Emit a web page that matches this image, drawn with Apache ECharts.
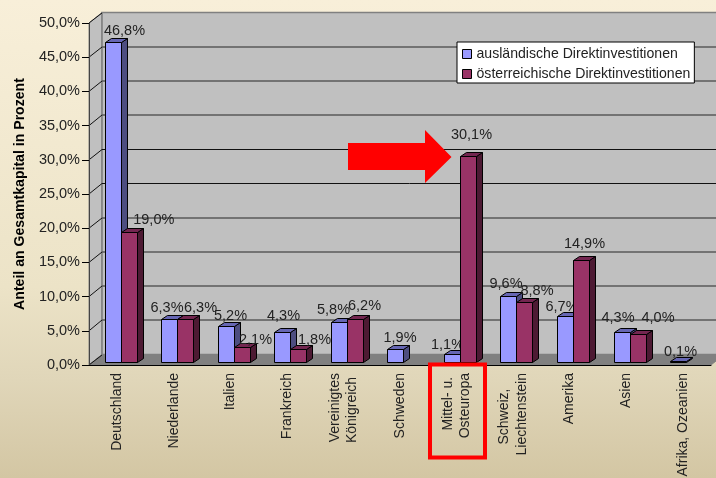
<!DOCTYPE html>
<html><head><meta charset="utf-8">
<style>html,body{margin:0;padding:0;background:#e8dcbc}#c{width:716px;height:478px}</style>
<script src="https://cdn.jsdelivr.net/npm/echarts@6/dist/echarts.min.js"></script>
</head><body><div id="c"></div>
<script>
const categories = ['Deutschland','Niederlande','Italien','Frankreich','Vereinigtes\nKönigreich','Schweden','Mittel- u.\nOsteuropa','Schweiz,\nLiechtenstein','Amerika','Asien','Afrika, Ozeanien'];
const auslaendisch = [46.8,6.3,5.2,4.3,5.8,1.9,1.1,9.6,6.7,4.3,0.1];
const oesterreichisch = [19.0,6.3,2.1,1.8,6.2,null,30.1,8.8,14.9,4.0,null];
const seriesNames = ['ausländische Direktinvestitionen','österreichische Direktinvestitionen'];
const valueTicks = [0,5,10,15,20,25,30,35,40,45,50];
const axisTitle = 'Anteil an Gesamtkapital in Prozent';
// hand-placed data-label nudges [dx,dy] relative to each bar's top centre
const nudgeA = [[11,-12],[-2.5,-12],[4,-11],[1,-17],[-6,-13],[4.5,-12],[-5,-10],[-2.5,-13],[-3.5,-10],[-4.5,-15],[2,-10]];
const nudgeB = [[24.3,-13],[15,-12],[13,-8],[16,-10],[9,-14],[0,0],[3,-22],[12.5,-11.5],[3,-17],[19.5,-17],[0,0]];
// trailing spaces so the shorter rotated line sits centred on the longer one
const labelPad = [0,0,0,0,[0,1],0,[1,0],[4,0],0,0,0];
// gridlines that look crisp black in the reference; the others are soft grey
const crispTicks = [25,30];

const FONT = '"Liberation Sans", Arial, sans-serif';
const TXT = '#222';
const pct = v => v.toFixed(1).replace('.', ',') + '%';
const BACK = [13,-10.5], BAR_OFF = [3.4,-3.3], BAR_W = 16, DEPTH = [6,-4];
const r = n => Math.round(n) + 0.5;

function poly(points, fill, stroke, lw) {
  return {type:'polygon', shape:{points}, style:{fill, stroke:stroke||null, lineWidth:lw==null?1:lw}};
}
function barRender(side, colors, nudges) {
  return function (params, api) {
    const v = api.value(1);
    if (v == null || isNaN(v)) return null;
    const i = api.value(0);
    const p = api.coord([i, v]), z = api.coord([i, 0]);
    const xc = p[0] + BAR_OFF[0];
    const x0 = r(side < 0 ? xc - BAR_W : xc), x1 = x0 + BAR_W;
    const yT = r(p[1] + BAR_OFF[1]), yB = r(z[1] + BAR_OFF[1]);
    const [dx, dy] = DEPTH;
    const kids = [
      poly([[x1,yT],[x1+dx,yT+dy],[x1+dx,yB+dy],[x1,yB]], colors[2], '#000'),
      poly([[x0,yT],[x0+dx,yT+dy],[x1+dx,yT+dy],[x1,yT]], colors[1], '#000'),
      poly([[x0,yT],[x1,yT],[x1,yB],[x0,yB]], colors[0], '#000'),
      {type:'text', style:{text:pct(v), x:(x0+x1)/2+nudges[i][0], y:p[1]+BAR_OFF[1]+nudges[i][1]+1,
        align:'center', verticalAlign:'middle', font:'14.5px '+FONT, fill:TXT}}
    ];
    return {type:'group', children:kids};
  };
}
function wallRender(params, api) {
  const c = params.coordSys;
  const x0 = c.x, x1 = c.x + c.width + 40;
  const yZ = api.coord([0,0])[1], yM = api.coord([0,50])[1];
  const [bx, by] = BACK;
  return {type:'group', children:[
    poly([[x0,yZ],[x0,yM],[x0+bx,yM+by],[x0+bx,yZ+by]], '#C0C0C0', '#808080'),
    poly([[x0+bx,yM+by],[x1,yM+by],[x1,yZ+by],[x0+bx,yZ+by]], '#C0C0C0', '#808080', 1.6),
    poly([[x0,yZ],[x0+bx,yZ+by],[c.x+c.width+bx,yZ+by],[c.x+c.width,yZ]], '#808080', '#808080')
  ]};
}
function gridRender(params, api) {
  const c = params.coordSys, v = api.value(1);
  const y = api.coord([0,v])[1];
  const [bx, by] = BACK;
  const crisp = crispTicks.indexOf(v) >= 0;
  const yb = crisp ? Math.floor(y+by)+0.5 : Math.round(y+by);
  const kids = [{type:'line', shape:{x1:c.x, y1:y, x2:c.x+bx, y2:yb}, style:{stroke:'#111', lineWidth:1}}];
  if (v > 0 && v < 50) kids.push({type:'line', shape:{x1:c.x+bx, y1:yb, x2:c.x+c.width+40, y2:yb},
    style:{stroke:crisp?'#111':'#5a5a5a', lineWidth:crisp?1:1.6}});
  return {type:'group', children:kids};
}

const chart = echarts.init(document.getElementById('c'), null, {renderer:'canvas'});
chart.setOption({
  animation:false,
  backgroundColor:{type:'linear',x:0,y:0,x2:0,y2:1,colorStops:[{offset:0,color:'#f8efd9'},{offset:0.6,color:'#ece3c7'},{offset:0.795,color:'#e0d6b9'},{offset:1,color:'#d3c6a3'}]},
  textStyle:{fontFamily:FONT},
  grid:{left:89,top:23,width:622,height:342,containLabel:false,outerBoundsMode:'none'},
  legend:{
    data:seriesNames, orient:'vertical', left:457, top:42, align:'left',
    backgroundColor:'#fff', borderColor:'#000', borderWidth:1, padding:[5,4,2,5],
    itemWidth:9, itemHeight:9, itemGap:6, icon:'rect', selectedMode:false,
    itemStyle:{borderColor:'#000',borderWidth:1},
    textStyle:{fontSize:14.1,color:TXT,fontFamily:FONT}
  },
  xAxis:{type:'category',data:categories,z:10,
    axisLine:{lineStyle:{color:'#000'}},
    axisTick:{alignWithLabel:false,length:6,lineStyle:{color:'#000'}},
    splitLine:{show:false},
    axisLabel:{interval:0,rotate:90,margin:8,fontSize:14,color:TXT,fontFamily:FONT,lineHeight:17.5,hideOverlap:false,
      formatter:(val,idx)=>{
        const pad=labelPad[idx];
        if(!pad) return val;
        return val.split('\n').map((s,k)=>s+' '.repeat(pad[k])).join('\n');
      }}
  },
  yAxis:{type:'value',min:0,max:50,interval:5,z:10,
    name:axisTitle,nameLocation:'middle',nameGap:62,nameRotate:90,
    nameTextStyle:{fontSize:14.1,fontWeight:'bold',color:'#000',fontFamily:FONT},
    axisLine:{show:true,lineStyle:{color:'#444'}},
    axisTick:{show:true,length:7,lineStyle:{color:'#000'}},
    splitLine:{show:false},
    axisLabel:{margin:9,fontSize:14.5,color:TXT,fontFamily:FONT,formatter:v=>pct(v)}
  },
  series:[
    {id:'wall',type:'custom',silent:true,z:1,renderItem:wallRender,data:[[0,0]],encode:{x:0,y:1},clip:false},
    {id:'grid',type:'custom',silent:true,z:1,renderItem:gridRender,data:valueTicks.map(v=>[0,v]),encode:{x:0,y:1},clip:false},
    {name:seriesNames[0],type:'custom',z:2,itemStyle:{color:'#9999FF',borderColor:'#000'},
      renderItem:barRender(-1,['#9999FF','#6666B3','#4D4D80'],nudgeA),
      data:auslaendisch.map((v,i)=>[i,v]),encode:{x:0,y:1},clip:false},
    {name:seriesNames[1],type:'custom',z:3,itemStyle:{color:'#993366',borderColor:'#000'},
      renderItem:barRender(1,['#993366','#732650','#4D1A33'],nudgeB),
      data:oesterreichisch.map((v,i)=>[i,v]),encode:{x:0,y:1},clip:false}
  ],
  graphic:[
    {type:'polygon',z:100,shape:{points:[[348,143],[425,143],[425,130],[451.5,157],[425,183],[425,170],[348,170]]},style:{fill:'#ff0000'}},
    {type:'rect',z:100,shape:{x:430,y:364.5,width:55,height:93},style:{fill:'none',stroke:'#ff0000',lineWidth:4}}
  ]
});
</script></body></html>
